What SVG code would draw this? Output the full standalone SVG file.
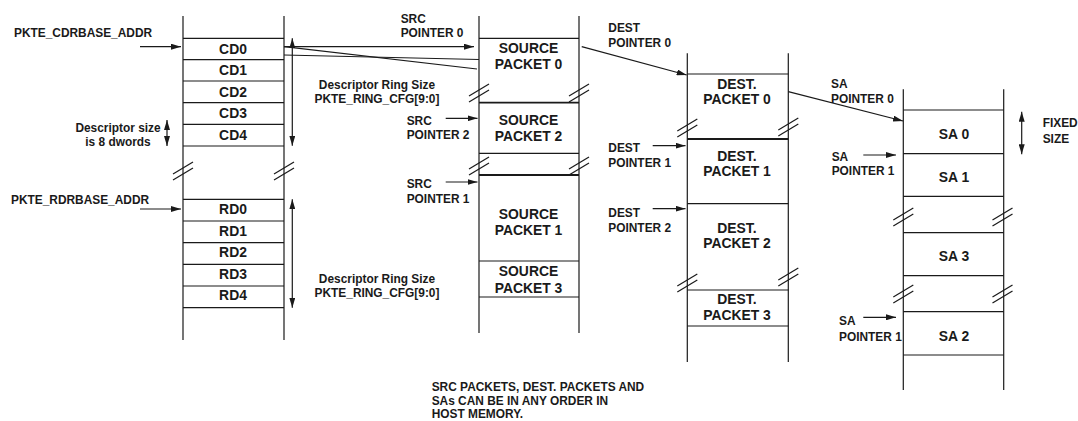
<svg xmlns="http://www.w3.org/2000/svg" width="1078" height="421" viewBox="0 0 1078 421">
<style>
  line, path { stroke: #1a1a1a; stroke-width: 1.2; fill: none; }
  .thick { stroke-width: 1.8; }
  text { font-family: "Liberation Sans", Arial, sans-serif; font-weight: bold; fill: #1a1a1a; }
  .big { font-size: 13.9px; text-anchor: middle; }
  .lbl { font-size: 11.9px; }
  .mid { text-anchor: middle; }
</style>
<defs>
  <marker id="ah" viewBox="0 0 10 6" markerWidth="10" markerHeight="6" refX="10" refY="3" orient="auto-start-reverse" markerUnits="userSpaceOnUse">
    <path d="M0,0 L10,3 L0,6 Z" style="fill:#1a1a1a;stroke:none"/>
  </marker>
  <g id="brk">
    <line x1="-10" y1="3" x2="10" y2="-9"/>
    <line x1="-10" y1="9" x2="10" y2="-3"/>
  </g>
</defs>

<!-- Column 1: descriptor rings -->
<g id="col-desc">
  <line x1="183" y1="16" x2="183" y2="340"/>
  <line x1="284" y1="16" x2="284" y2="340"/>
  <use href="#brk" x="183" y="171"/>
  <use href="#brk" x="284" y="171"/>
</g>
<g id="cd0"><line x1="183" y1="38.3" x2="284" y2="38.3"/><text class="big" x="233" y="53.5">CD0</text></g>
<g id="cd1"><line x1="183" y1="59.7" x2="284" y2="59.7"/><text class="big" x="233" y="75.1">CD1</text></g>
<g id="cd2"><line x1="183" y1="81" x2="284" y2="81"/><text class="big" x="233" y="96.7">CD2</text></g>
<g id="cd3"><line x1="183" y1="102.7" x2="284" y2="102.7"/><text class="big" x="233" y="118.3">CD3</text></g>
<g id="cd4"><line x1="183" y1="124.3" x2="284" y2="124.3"/><text class="big" x="233" y="139.9">CD4</text><line x1="183" y1="146" x2="284" y2="146"/></g>
<g id="rd0"><line x1="183" y1="199.3" x2="284" y2="199.3"/><text class="big" x="233" y="214">RD0</text></g>
<g id="rd1"><line x1="183" y1="221" x2="284" y2="221"/><text class="big" x="233" y="235.6">RD1</text></g>
<g id="rd2"><line x1="183" y1="242.7" x2="284" y2="242.7"/><text class="big" x="233" y="257.2">RD2</text></g>
<g id="rd3"><line x1="183" y1="264.3" x2="284" y2="264.3"/><text class="big" x="233" y="278.8">RD3</text></g>
<g id="rd4"><line x1="183" y1="286" x2="284" y2="286"/><text class="big" x="233" y="300.4">RD4</text><line x1="183" y1="307.7" x2="284" y2="307.7"/></g>

<!-- Column 2: source packets -->
<g id="col-src">
  <line x1="479" y1="16" x2="479" y2="333"/>
  <line x1="579" y1="16" x2="579" y2="333"/>
  <use href="#brk" x="479" y="93"/>
  <use href="#brk" x="579" y="93"/>
  <use href="#brk" x="479" y="166"/>
  <use href="#brk" x="579" y="166"/>
</g>
<g id="src0"><line x1="479" y1="38.3" x2="579" y2="38.3"/><text class="big" x="528.5" y="53.3">SOURCE</text><text class="big" x="528.5" y="68.8">PACKET 0</text></g>
<g id="src2"><line class="thick" x1="479" y1="102.7" x2="579" y2="102.7"/><text class="big" x="528.5" y="125">SOURCE</text><text class="big" x="528.5" y="140.7">PACKET 2</text><line x1="479" y1="153.3" x2="579" y2="153.3"/></g>
<g id="src1"><line class="thick" x1="479" y1="175" x2="579" y2="175"/><text class="big" x="528.5" y="218.7">SOURCE</text><text class="big" x="528.5" y="235">PACKET 1</text></g>
<g id="src3"><line x1="479" y1="261" x2="579" y2="261"/><text class="big" x="528.5" y="276">SOURCE</text><text class="big" x="528.5" y="292.5">PACKET 3</text><line x1="479" y1="297" x2="579" y2="297"/></g>

<!-- Column 3: destination packets -->
<g id="col-dest">
  <line x1="687.3" y1="53.3" x2="687.3" y2="362"/>
  <line x1="788.3" y1="53.3" x2="788.3" y2="362"/>
  <use href="#brk" x="687.3" y="128"/>
  <use href="#brk" x="788.3" y="127"/>
  <use href="#brk" x="687.3" y="283"/>
  <use href="#brk" x="788.3" y="277"/>
</g>
<g id="dst0"><line x1="687.3" y1="74" x2="788.3" y2="74"/><text class="big" x="737" y="88.7">DEST.</text><text class="big" x="737" y="104">PACKET 0</text></g>
<g id="dst1"><line class="thick" x1="687.3" y1="139" x2="788.3" y2="139"/><text class="big" x="737" y="160.7">DEST.</text><text class="big" x="737" y="176">PACKET 1</text></g>
<g id="dst2"><line x1="687.3" y1="203.7" x2="788.3" y2="203.7"/><text class="big" x="737" y="232.7">DEST.</text><text class="big" x="737" y="248.3">PACKET 2</text></g>
<g id="dst3"><line x1="687.3" y1="290" x2="788.3" y2="290"/><text class="big" x="737" y="304">DEST.</text><text class="big" x="737" y="320">PACKET 3</text><line x1="687.3" y1="326" x2="788.3" y2="326"/></g>

<!-- Column 4: SAs -->
<g id="col-sa">
  <line x1="903.3" y1="89.3" x2="903.3" y2="390"/>
  <line x1="1003.7" y1="89.3" x2="1003.7" y2="390"/>
  <use href="#brk" x="903.3" y="217"/>
  <use href="#brk" x="1002.5" y="217"/>
  <use href="#brk" x="903.3" y="294"/>
  <use href="#brk" x="1002.5" y="294"/>
</g>
<g id="sa0"><line x1="903.3" y1="110" x2="1003.7" y2="110"/><text class="big" x="954" y="139">SA 0</text></g>
<g id="sa1"><line x1="903.3" y1="153.7" x2="1003.7" y2="153.7"/><text class="big" x="954" y="181.7">SA 1</text><line x1="903.3" y1="196.3" x2="1003.7" y2="196.3"/></g>
<g id="sa3"><line x1="903.3" y1="232.7" x2="1003.7" y2="232.7"/><text class="big" x="954" y="260.7">SA 3</text><line x1="903.3" y1="275.7" x2="1003.7" y2="275.7"/></g>
<g id="sa2"><line x1="903.3" y1="311.7" x2="1003.7" y2="311.7"/><text class="big" x="954" y="340.7">SA 2</text><line x1="903.3" y1="355" x2="1003.7" y2="355"/></g>

<!-- Labels -->
<g id="labels">
  <text class="lbl" x="14" y="36.7">PKTE_CDRBASE_ADDR</text>
  <text class="lbl" x="11" y="204">PKTE_RDRBASE_ADDR</text>
  <text class="lbl mid" x="118" y="131.5">Descriptor size</text>
  <text class="lbl mid" x="118" y="145.5">is 8 dwords</text>
  <text class="lbl mid" x="377" y="89.3">Descriptor Ring Size</text>
  <text class="lbl mid" x="377" y="103.3">PKTE_RING_CFG[9:0]</text>
  <text class="lbl mid" x="377" y="283.3">Descriptor Ring Size</text>
  <text class="lbl mid" x="377" y="297.3">PKTE_RING_CFG[9:0]</text>
  <text class="lbl" x="400.7" y="22.7">SRC</text>
  <text class="lbl" x="400.7" y="37.3">POINTER 0</text>
  <text class="lbl" x="406.7" y="125">SRC</text>
  <text class="lbl" x="406.7" y="139">POINTER 2</text>
  <text class="lbl" x="406.7" y="188.3">SRC</text>
  <text class="lbl" x="406.7" y="203.3">POINTER 1</text>
  <text class="lbl" x="608.3" y="31.7">DEST</text>
  <text class="lbl" x="608.3" y="46.7">POINTER 0</text>
  <text class="lbl" x="608.3" y="151.7">DEST</text>
  <text class="lbl" x="608.3" y="166.7">POINTER 1</text>
  <text class="lbl" x="608.3" y="216.7">DEST</text>
  <text class="lbl" x="608.3" y="231.7">POINTER 2</text>
  <text class="lbl" x="831" y="88">SA</text>
  <text class="lbl" x="831" y="102.5">POINTER 0</text>
  <text class="lbl" x="831.7" y="160.7">SA</text>
  <text class="lbl" x="831.7" y="174.5">POINTER 1</text>
  <text class="lbl" x="839" y="325">SA</text>
  <text class="lbl" x="839" y="340.7">POINTER 1</text>
  <text class="lbl" x="1042.7" y="127.3">FIXED</text>
  <text class="lbl" x="1042.7" y="142.7">SIZE</text>
  <text class="lbl" x="431.7" y="391">SRC PACKETS, DEST. PACKETS AND</text>
  <text class="lbl" x="431.7" y="404.8">SAs CAN BE IN ANY ORDER IN</text>
  <text class="lbl" x="431.7" y="418.3">HOST MEMORY.</text>
</g>

<!-- Connectors -->
<g id="connectors">
  <line x1="140" y1="46.7" x2="181" y2="46.7" marker-end="url(#ah)"/>
  <line x1="140" y1="209" x2="181" y2="209" marker-end="url(#ah)"/>
  <line x1="167" y1="120" x2="167" y2="146" marker-start="url(#ah)" marker-end="url(#ah)"/>
  <line x1="292.3" y1="38.3" x2="292.3" y2="145.7" marker-start="url(#ah)" marker-end="url(#ah)"/>
  <line x1="292.3" y1="199.3" x2="292.3" y2="307.7" marker-start="url(#ah)" marker-end="url(#ah)"/>
  <line x1="1021.7" y1="111.7" x2="1021.7" y2="154.3" marker-start="url(#ah)" marker-end="url(#ah)"/>
  <line x1="284" y1="46.7" x2="474" y2="46.7" marker-end="url(#ah)"/>
  <line x1="284" y1="46.7" x2="477" y2="69"/>
  <line x1="284" y1="55" x2="479" y2="59.5"/>
  <line x1="445.7" y1="118.3" x2="477.5" y2="118.3" marker-end="url(#ah)"/>
  <line x1="445.7" y1="182" x2="477.5" y2="182" marker-end="url(#ah)"/>
  <line x1="581.7" y1="46.7" x2="686.7" y2="75" marker-end="url(#ah)"/>
  <line x1="652.7" y1="145.7" x2="685.5" y2="145.7" marker-end="url(#ah)"/>
  <line x1="652.7" y1="208.7" x2="685.5" y2="208.7" marker-end="url(#ah)"/>
  <line x1="788.3" y1="91.7" x2="903" y2="121" marker-end="url(#ah)"/>
  <line x1="863.3" y1="155" x2="896" y2="155" marker-end="url(#ah)"/>
  <line x1="863.3" y1="317.3" x2="896" y2="317.3" marker-end="url(#ah)"/>
</g>
</svg>
